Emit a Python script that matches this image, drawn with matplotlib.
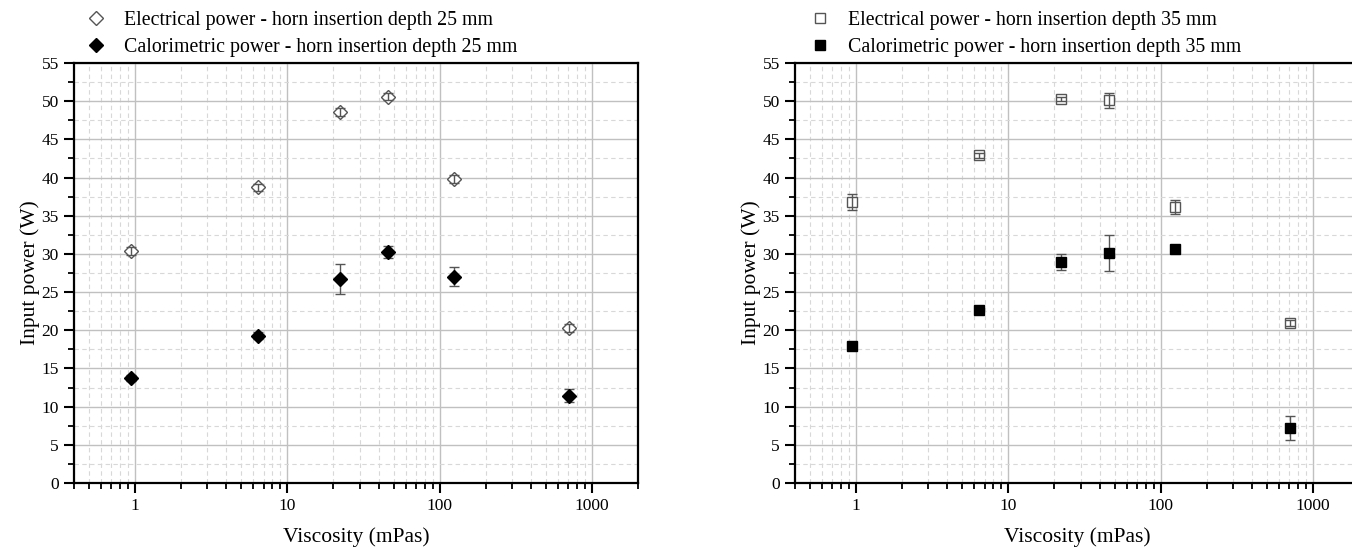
import matplotlib
matplotlib.use("Agg")
import matplotlib.pyplot as plt
from matplotlib.lines import Line2D
from matplotlib.ticker import LogLocator, MultipleLocator, NullFormatter, FixedLocator, FixedFormatter

plt.rcParams['font.family'] = ['Liberation Serif', 'DejaVu Serif']

viscosity = [0.94, 6.4, 22.3, 46, 124, 710]

elec_25 = [30.4, 38.7, 48.6, 50.6, 39.8, 20.3]
elec_25_err = [0.5, 0.4, 0.5, 0.5, 0.5, 0.5]
calo_25 = [13.7, 19.3, 26.7, 30.2, 27.0, 11.4]
calo_25_err = [0.4, 0.5, 2.0, 0.8, 1.25, 0.85]

elec_35 = [36.8, 42.9, 50.3, 50.1, 36.1, 20.9]
elec_35_err = [1.0, 0.3, 0.3, 1.0, 0.9, 0.4]
calo_35 = [17.9, 22.6, 29.0, 30.1, 30.6, 7.2]
calo_35_err = [0.3, 0.4, 1.05, 2.35, 0.5, 1.55]

x_ticks = [1, 10, 100, 1000]
x_tick_labels = ["1", "10", "100", "1000"]

W, H = 1352, 547
fig = plt.figure(figsize=(W / 100, H / 100), dpi=100)

ax_w = 564 / W
ax_h = 420 / H
bottom = 1 - 483 / H
axL = fig.add_axes([74 / W, bottom, ax_w, ax_h])
axR = fig.add_axes([795 / W, bottom, ax_w, ax_h])

ecol = '#555555'


def style(ax):
    ax.set_xscale('log')
    ax.set_xlim(0.4, 2000)
    ax.set_ylim(0, 55)
    ax.xaxis.set_major_locator(FixedLocator(x_ticks))
    ax.xaxis.set_major_formatter(FixedFormatter(x_tick_labels))
    ax.xaxis.set_minor_locator(LogLocator(base=10, subs=range(2, 10), numticks=20))
    ax.xaxis.set_minor_formatter(NullFormatter())
    ax.yaxis.set_major_locator(MultipleLocator(5))
    ax.yaxis.set_minor_locator(MultipleLocator(2.5))
    ax.grid(True, which='major', color='#c0c0c0', lw=1.0, ls='-', zorder=0)
    ax.grid(True, which='minor', color='#d8d8d8', lw=0.8, ls=(0, (4, 3)), zorder=0)
    ax.set_axisbelow(True)
    for s in ax.spines.values():
        s.set_linewidth(1.6)
        s.set_color('black')
    ax.tick_params(which='major', direction='out', length=7, width=1.5, labelsize=12.5, pad=4)
    ax.tick_params(which='minor', direction='out', length=4, width=1.3)
    ax.tick_params(axis='x', which='major', pad=4)
    ax.set_xlabel('Viscosity (mPas)', fontsize=15.5, labelpad=9)
    ax.set_ylabel('Input power (W)', fontsize=15.5, labelpad=1)


def plot_set(ax, elec, eerr, calo, cerr, marker, ms, label_e, label_c, legx):
    ax.errorbar(viscosity, elec, yerr=eerr, fmt=marker, ms=ms, mfc='white', mec=ecol, mew=1.0,
                ecolor=ecol, elinewidth=1.0, capsize=3.5, capthick=1.0, barsabove=True, zorder=3)
    ax.errorbar(viscosity, calo, yerr=cerr, fmt=marker, ms=ms, mfc='black', mec='black', mew=1.0,
                ecolor=ecol, elinewidth=1.0, capsize=3.5, capthick=1.0, zorder=3)
    handles = [Line2D([], [], ls='none', marker=marker, ms=ms, mfc='white', mec=ecol, mew=1.0),
               Line2D([], [], ls='none', marker=marker, ms=ms, mfc='black', mec='black', mew=1.0)]
    fig.legend(handles, [label_e, label_c], loc='upper left',
               bbox_to_anchor=(legx / W, 1 + 3 / H), frameon=False, fontsize=14.3,
               handlelength=1.0, handletextpad=0.9, labelspacing=0.4, borderpad=0.2)


style(axL)
style(axR)
plot_set(axL, elec_25, elec_25_err, calo_25, calo_25_err, 'D', 7.5,
         'Electrical power - horn insertion depth 25 mm',
         'Calorimetric power - horn insertion depth 25 mm', 72)
plot_set(axR, elec_35, elec_35_err, calo_35, calo_35_err, 's', 7,
         'Electrical power - horn insertion depth 35 mm',
         'Calorimetric power - horn insertion depth 35 mm', 796)

fig.savefig('out.png', dpi=100)
